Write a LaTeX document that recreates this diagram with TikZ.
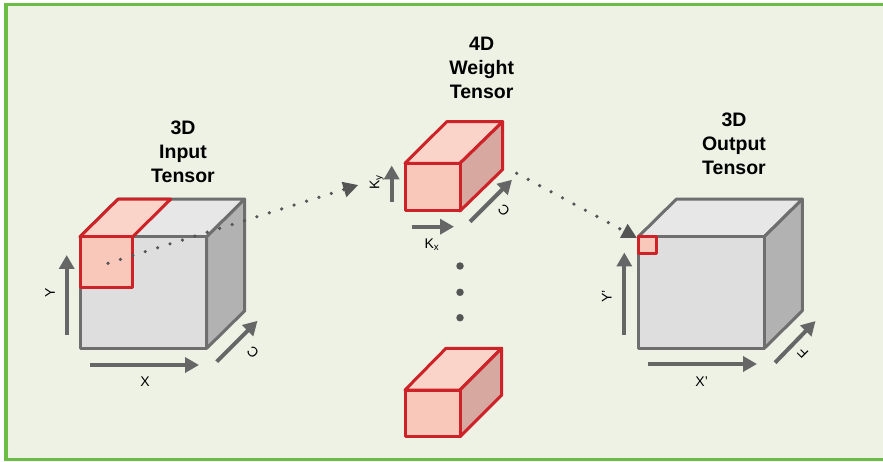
\documentclass[tikz,border=0pt]{standalone}
\usepackage{fontspec}
\setmainfont{Liberation Sans}
\usepackage{tikz}
\usetikzlibrary{arrows.meta, positioning}
\definecolor{framegreen}{RGB}{108,189,69}
\definecolor{paper}{RGB}{237,242,229}
\definecolor{cubeedge}{RGB}{110,110,110}
\definecolor{cubefront}{RGB}{222,222,222}
\definecolor{cubetop}{RGB}{231,231,231}
\definecolor{cubeside}{RGB}{178,178,178}
\definecolor{kernred}{RGB}{204,34,40}
\definecolor{kernfront}{RGB}{249,200,186}
\definecolor{kerntop}{RGB}{250,212,200}
\definecolor{kernside}{RGB}{214,168,160}
\definecolor{axisgray}{RGB}{102,102,102}
\definecolor{dotgray}{RGB}{85,85,85}
\tikzset{
  title/.style     = {align=center, font=\fontsize{19.5}{24}\selectfont\bfseries},
  axislabel/.style = {font=\fontsize{14}{16}\selectfont, inner sep=0pt},
  axis/.style      = {-{Triangle[length=14pt,width=15pt]}, line width=4pt,
                      draw=axisgray},
  cubeface/.style  = {draw=cubeedge, line width=3pt, line join=round, fill=#1},
  kernface/.style  = {draw=kernred, line width=3pt, line join=round, fill=#1},
  flow/.style      = {line width=3.6pt, draw=dotgray, line cap=round,
                      dash pattern=on 0pt off 13pt,
                      -{Triangle[length=15pt,width=15pt,fill=dotgray]}},
  dot/.style       = {circle, fill=dotgray, inner sep=0pt, minimum size=7.5pt},
}

\begin{document}
\begin{tikzpicture}[x=1pt, y=-1pt]
  % page and frame
  \useasboundingbox (0,0) rectangle (883,462);
  \fill[white] (0,0) rectangle (883,462);
  \fill[paper] (6,4.5) rectangle (883,459.5);
  \draw[framegreen, line width=3.5pt] (883,4.5) -- (6,4.5) -- (6,459.5) -- (883,459.5);

  % 3D input tensor
  \draw[cubeface=cubetop] (80,236.7) -- (118,199.2) -- (244.7,199.2) -- (206.7,236.7) -- cycle;
  \draw[cubeface=cubeside] (206.7,236.7) -- (244.7,199.2) -- (244.7,310.8) -- (206.7,348.3) -- cycle;
  \draw[cubeface=cubefront] (80,236.7) rectangle (206.7,348.3);
  \draw[kernface=kerntop] (80,236.7) -- (118,199.2) -- (170.7,199.2) -- (132.7,236.7) -- cycle;
  \draw[kernface=kernfront] (80,236.7) rectangle (132.7,287.7);
  \coordinate (inpatch) at (108,263.3);

  \node[title] (intitle) at (183,152) {3D\\Input\\Tensor};

  \coordinate (iny0) at (66.7,335);
  \coordinate (iny1) at (66.7,255);
  \draw[axis] (iny0) -- (iny1);
  \node[axislabel, rotate=90] (inylab) at (50,293) {Y};
  \coordinate (inx0) at (90,365);
  \coordinate (inx1) at (199,365);
  \draw[axis] (inx0) -- (inx1);
  \node[axislabel] (inxlab) at (145,381.7) {X};
  \coordinate (inc0) at (216.7,361.7);
  \coordinate (inc1) at (257.5,320.8);
  \draw[axis] (inc0) -- (inc1);
  \node[axislabel, rotate=135] (inclab) at (253,352) {C};

  % 4D weight tensor
  \node[title] (wtitle) at (481.7,67.5) {4D\\Weight\\Tensor};

  \draw[kernface=kerntop] (405,163.3) -- (446.7,121.7) -- (502.7,121.7) -- (460,163.3) -- cycle;
  \draw[kernface=kernside] (460,163.3) -- (502.7,121.7) -- (502.7,169.4) -- (460,211) -- cycle;
  \draw[kernface=kernfront] (405,163.3) rectangle (460,211);
  \coordinate (wleft) at (358.3,185);
  \coordinate (wright) at (516.7,173.3);

  \coordinate (wky0) at (391.7,202);
  \coordinate (wky1) at (391.7,165.5);
  \draw[axis] (wky0) -- (wky1);
  \node[axislabel, rotate=90] (wkylab) at (376.7,182) {K\textsubscript{y}};
  \coordinate (wkx0) at (411.7,226.7);
  \coordinate (wkx1) at (454,226.7);
  \draw[axis] (wkx0) -- (wkx1);
  \node[axislabel] (wkxlab) at (432,245) {K\textsubscript{x}};
  \coordinate (wc0) at (470,221.7);
  \coordinate (wc1) at (512,179.7);
  \draw[axis] (wc0) -- (wc1);
  \node[axislabel, rotate=135] (wclab) at (504,210) {C};

  \node[dot] (dota) at (460,266) {};
  \node[dot] (dotb) at (460,292.3) {};
  \node[dot] (dotc) at (460,317.7) {};

  \draw[kernface=kerntop] (405,390) -- (446,348.3) -- (501.7,348.3) -- (460,390) -- cycle;
  \draw[kernface=kernside] (460,390) -- (501.7,348.3) -- (501.7,395) -- (460,436.7) -- cycle;
  \draw[kernface=kernfront] (405,390) rectangle (460,436.7);

  % 3D output tensor
  \node[title] (outtitle) at (734,143.7) {3D\\Output\\Tensor};

  \draw[cubeface=cubetop] (638.3,236.7) -- (676.3,199.2) -- (802.3,199.2) -- (764.3,236.7) -- cycle;
  \draw[cubeface=cubeside] (764.3,236.7) -- (802.3,199.2) -- (802.3,310.8) -- (764.3,348.3) -- cycle;
  \draw[cubeface=cubefront] (638.3,236.7) rectangle (764.3,348.3);
  \draw[kernface=kernfront] (638.3,236.7) rectangle (656.2,253.3);
  \coordinate (outpix) at (637,238);

  \coordinate (outy0) at (624.3,335);
  \coordinate (outy1) at (624.3,252.5);
  \draw[axis] (outy0) -- (outy1);
  \node[axislabel, rotate=90] (outylab) at (606.7,296.7) {Y'};
  \coordinate (outx0) at (648.3,364);
  \coordinate (outx1) at (757,364);
  \draw[axis] (outx0) -- (outx1);
  \node[axislabel] (outxlab) at (701.7,381.7) {X'};
  \coordinate (outf0) at (775,362.7);
  \coordinate (outf1) at (815.5,321);
  \draw[axis] (outf0) -- (outf1);
  \node[axislabel, rotate=135] (outflab) at (803,353) {F};

  % sliding window flow
  \draw[flow] (inpatch) -- (wleft);
  \draw[flow] (wright) -- (outpix);
\end{tikzpicture}
\end{document}
